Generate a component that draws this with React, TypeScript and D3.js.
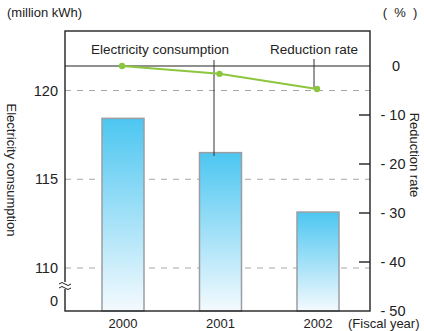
import React from "react";
import * as d3 from "d3";

const years = ["2000", "2001", "2002"];
const consumption = [118.43, 116.5, 113.15];
const reductionRate = [0, -1.6, -4.7];
const leftTicks = [120, 115, 110];
const rightTicks = [0, -10, -20, -30, -40, -50];

const W = 424, H = 331;
const L = 65, R = 370, T = 31, B = 311;

export default function App() {
  const x = d3.scalePoint<string>().domain(years).range([123, 318]);
  const y = d3.scaleLinear().domain([110, 120]).range([268, 90.5]);
  const yR = d3.scaleLinear().domain([-50, 0]).range([B, 66]);
  const barW = 42;
  const line = d3
    .line<number>()
    .x((_, i) => x(years[i])! - 1)
    .y((d) => yR(d));
  const font = "'Liberation Sans', Arial, sans-serif";
  return (
    <svg
      width={W}
      height={H}
      style={{ position: "absolute", left: 0, top: 0, background: "#fff" }}
      fontFamily={font}
    >
      <defs>
        <linearGradient id="barg" x1="0" y1="0" x2="0" y2="1">
          <stop offset="0" stopColor="#4cc6f1" />
          <stop offset="1" stopColor="#f4fafe" />
        </linearGradient>
      </defs>
      {leftTicks.map((t) => (
        <line
          key={t}
          x1={L}
          x2={R}
          y1={y(t)}
          y2={y(t)}
          stroke="#a8a8a8"
          strokeWidth={1.2}
          strokeDasharray="6,6"
        />
      ))}
      {consumption.map((v, i) => (
        <rect
          key={i}
          x={x(years[i])! - barW / 2}
          y={y(v)}
          width={barW}
          height={B - y(v)}
          fill="url(#barg)"
          stroke="#9a9ea2"
          strokeWidth={1.5}
        />
      ))}
      <rect x={L} y={T} width={R - L} height={B - T} fill="none" stroke="#222" strokeWidth={1.4} />
      <line x1={L} x2={R} y1={yR(0)} y2={yR(0)} stroke="#222" strokeWidth={1.2} />
      {rightTicks.slice(1, 5).map((t) => (
        <line key={t} x1={R - 11} x2={R} y1={yR(t)} y2={yR(t)} stroke="#222" strokeWidth={1.4} />
      ))}
      <g stroke="#222" strokeWidth={1} fill="none">
        <rect x={L - 3} y={282} width={6} height={7} fill="#fff" stroke="none" />
        <path d="M59,284 q3,-3 6,0 t6,0" />
        <path d="M59,288 q3,-3 6,0 t6,0" />
      </g>
      <line x1={214} x2={214} y1={60} y2={156} stroke="#333" strokeWidth={1} />
      <line x1={314} x2={314} y1={59} y2={yR(reductionRate[2])} stroke="#333" strokeWidth={1} />
      <path d={line(reductionRate)!} fill="none" stroke="#8cc63f" strokeWidth={2} />
      {reductionRate.map((v, i) => (
        <circle key={i} cx={x(years[i])! - 1} cy={yR(v)} r={3.2} fill="#8cc63f" />
      ))}
      <text x={160} y={54} textAnchor="middle" fontSize={13.5} fill="#222">
        Electricity consumption
      </text>
      <text x={314} y={54} textAnchor="middle" fontSize={13.5} fill="#222">
        Reduction rate
      </text>
      {leftTicks.map((t) => (
        <text key={t} x={58} y={y(t) + 5} textAnchor="end" fontSize={14.5} fill="#222">
          {t}
        </text>
      ))}
      <text x={58} y={B - 5} textAnchor="end" fontSize={14.5} fill="#222">
        0
      </text>
      {rightTicks.map((t) => (
        <text
          key={t}
          x={t === 0 ? 396 : 393}
          y={yR(t) + 5}
          textAnchor="middle"
          fontSize={14.5}
          fill="#222"
        >
          {t === 0 ? "0" : `- ${-t}`}
        </text>
      ))}
      {years.map((yr) => (
        <text key={yr} x={x(yr)} y={328} textAnchor="middle" fontSize={13} fill="#222">
          {yr}
        </text>
      ))}
      <text x={348} y={328} textAnchor="start" fontSize={13} fill="#222">
        (Fiscal year)
      </text>
      <text x={7} y={17} fontSize={13} fill="#222">
        (million kWh)
      </text>
      <text x={400} y={17} textAnchor="middle" fontSize={13} fill="#222" xmlSpace="preserve">
        (  %  )
      </text>
      <text transform={`translate(7,170) rotate(90)`} textAnchor="middle" fontSize={13} fill="#222">
        Electricity consumption
      </text>
      <text transform={`translate(410,155) rotate(90)`} textAnchor="middle" fontSize={13} fill="#222">
        Reduction rate
      </text>
    </svg>
  );
}
